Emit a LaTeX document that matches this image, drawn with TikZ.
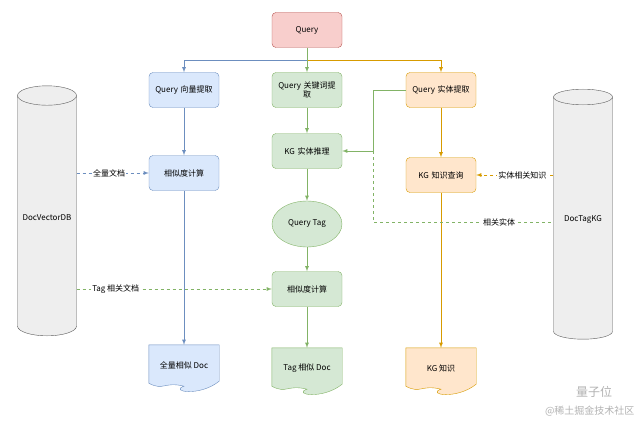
\documentclass[tikz,border=0pt]{standalone}
\usepackage{fontspec}
\setmainfont{Noto Sans CJK SC}
\usetikzlibrary{positioning, shapes.geometric}
\definecolor{redF}{HTML}{F8CECC}\definecolor{redD}{HTML}{B85450}
\definecolor{blueF}{HTML}{DAE8FC}\definecolor{blueD}{HTML}{6C8EBF}
\definecolor{greenF}{HTML}{D5E8D4}\definecolor{greenD}{HTML}{82B366}
\definecolor{orangeF}{HTML}{FFE6CC}\definecolor{orangeD}{HTML}{D79B00}
\definecolor{dbF}{HTML}{EEEEEE}
\tikzset{
	flowbox/.style={draw, rounded corners=4pt, minimum width=70pt, minimum height=35pt, text width=64pt, align=center, inner sep=2pt, font=\fontsize{8}{9}\selectfont},
	qbox/.style={flowbox, fill=redF, draw=redD},
	bbox/.style={flowbox, fill=blueF, draw=blueD},
	gbox/.style={flowbox, fill=greenF, draw=greenD},
	obox/.style={flowbox, fill=orangeF, draw=orangeD},
	% document nodes, outline drawn by \docshape
	doc/.style={minimum width=70pt, minimum height=46pt, inner sep=0pt, font=\fontsize{8}{9}\selectfont},
	db/.style={draw=gray!70!black, fill=dbF, cylinder, shape border rotate=90, aspect=0.35, minimum width=59pt, minimum height=250pt, font=\fontsize{8}{9}\selectfont},
	lbl/.style={fill=white, text=black, inner sep=1pt, font=\fontsize{8}{9}\selectfont},
}
\newcommand{\docshape}[3]{%
	\fill[#2] (#1.north west) -- (#1.north east) -- ([yshift=10pt]#1.south east)
		.. controls ([xshift=-20pt,yshift=-6pt]#1.south east) and ([xshift=-15pt,yshift=0pt]#1.south) .. ([yshift=5pt]#1.south)
		.. controls ([xshift=-20pt,yshift=10pt]#1.south) and ([xshift=15pt,yshift=0pt]#1.south west) .. ([yshift=8pt]#1.south west) -- cycle;
	\draw[#3] (#1.north west) -- (#1.north east) -- ([yshift=10pt]#1.south east)
		.. controls ([xshift=-20pt,yshift=-6pt]#1.south east) and ([xshift=-15pt,yshift=0pt]#1.south) .. ([yshift=5pt]#1.south)
		.. controls ([xshift=-20pt,yshift=10pt]#1.south) and ([xshift=15pt,yshift=0pt]#1.south west) .. ([yshift=8pt]#1.south west) -- cycle;
}

\begin{document}
\begin{tikzpicture}[x=1pt, y=-1pt]
\useasboundingbox (0,0) rectangle (640,428);

\node (query) [qbox] at (307,30) {Query};

\node (vecext) [bbox] at (184,90) {Query 向量提取};
\node (keyext) [gbox] at (307,90) {Query 关键词提\\取};
\node (entext) [obox] at (441,90) {Query 实体提取};

\node (kginfer) [gbox] at (307,151) {KG 实体推理};
\node (simblue) [bbox] at (184,173) {相似度计算};
\node (kgquery) [obox] at (441,175) {KG 知识查询};

\node (qtag) [ellipse, draw=greenD, fill=greenF, minimum width=70pt, minimum height=46pt, font=\fontsize{8}{9}\selectfont] at (307,224) {Query Tag};
\node (simgreen) [gbox] at (307,289) {相似度计算};

\node (docblue) [doc] at (184,368) {};
\node (docgreen) [doc] at (307,371) {};
\node (docorange) [doc] at (441,371) {};
\docshape{docblue}{blueF}{blueD}
\docshape{docgreen}{greenF}{greenD}
\docshape{docorange}{orangeF}{orangeD}
\node [doc, yshift=3pt] at (docblue) {全量相似 Doc};
\node [doc, yshift=3pt] at (docgreen) {Tag 相似 Doc};
\node [doc, yshift=3pt] at (docorange) {KG 知识};

\node (vecdb) [db] at (47,218) {DocVectorDB};
\node (tagkg) [db] at (583,220) {DocTagKG};

\coordinate (split) at (307,60);
\coordinate (turn) at (373,151);

\begin{scope}[thick, ->, >=latex]
	\draw[blueD] (split) -| (vecext);
	\draw[orangeD] (split) -| (entext);
	\draw[greenD] (query) -- (keyext);
	\draw[blueD] (vecext) -- (simblue);
	\draw[blueD] (simblue) -- (docblue);
	\draw[greenD] (keyext) -- (kginfer);
	\draw[greenD] (kginfer) -- (qtag);
	\draw[greenD] (qtag) -- (simgreen);
	\draw[greenD] (simgreen) -- (docgreen);
	\draw[greenD] (entext.west) -| (turn) -- (kginfer);
	\draw[orangeD] (entext) -- (kgquery);
	\draw[orangeD] (kgquery) -- (docorange);
\end{scope}

\begin{scope}[thick, dashed, ->, >=latex]
	\draw[blueD] (vecdb.east |- simblue) -- node[lbl, pos=0.45] {全量文档} (simblue);
	\draw[greenD] (vecdb.east |- simgreen) -- node[lbl, pos=0.2] {Tag 相关文档} (simgreen);
	\draw[orangeD] (tagkg.west |- kgquery) -- node[lbl, pos=0.4] {实体相关知识} (kgquery);
	\draw[greenD, -] (turn) |- node[lbl, pos=0.85] {相关实体} (tagkg.west |- 0,222);
\end{scope}

\node (mark) [text=gray!60, font=\fontsize{12}{12}\selectfont] at (594,392) {量子位};
\node (site) [text=gray!60, font=\fontsize{10}{10}\selectfont, anchor=east] at (638,411) {@稀土掘金技术社区};
\end{tikzpicture}
\end{document}
